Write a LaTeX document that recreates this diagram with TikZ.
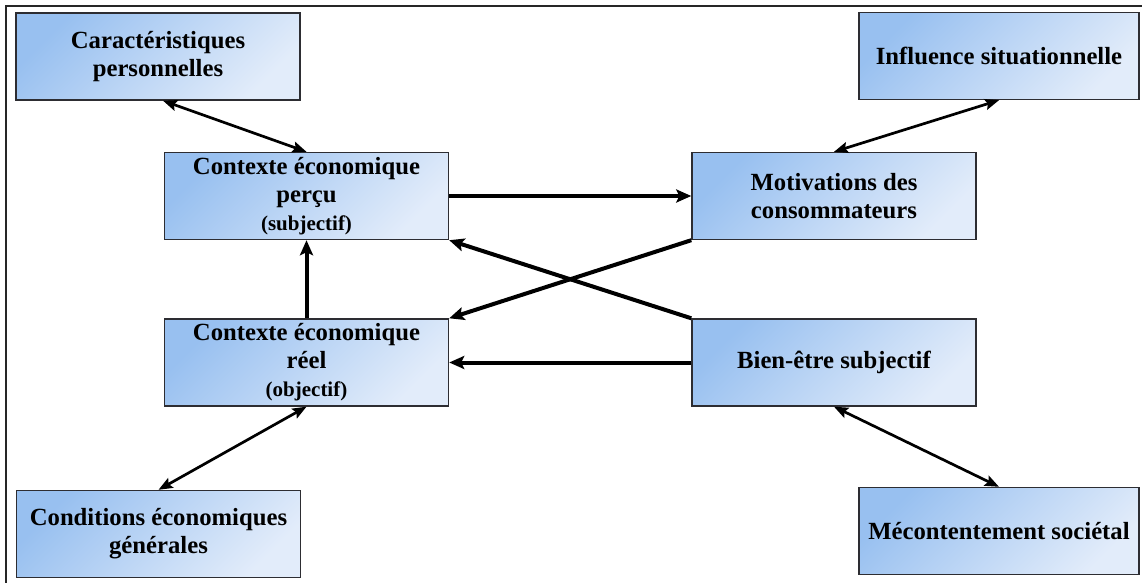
\documentclass[tikz,border=0pt]{standalone}
\usepackage{fontspec}
\setmainfont{Liberation Serif}
\usepackage{xcolor}
\usetikzlibrary{arrows.meta, positioning, calc}
\definecolor{boxtop}{RGB}{152, 192, 240}
\definecolor{boxbot}{RGB}{226, 236, 250}
\definecolor{boxline}{RGB}{45, 45, 50}
\newcommand{\petit}{\fontsize{10.5}{12.8}\selectfont}
\tikzset{
    box/.style={
        rectangle, minimum width=142pt, minimum height=43.5pt, inner sep=0pt,
        draw=boxline, line width=0.7pt, top color=boxtop, bottom color=boxbot,
        shading angle=45, text=black,
        font=\fontsize{12.35}{14}\selectfont\bfseries, align=center
    },
    sidebox/.style={box, minimum width=140pt},
    arrow/.style={-{Stealth[length=7.5pt, width=6.5pt, inset=1.5pt]}, line width=2pt, black},
    twoway/.style={{Stealth[length=7pt, width=5.5pt, inset=1.2pt]}-{Stealth[length=7pt, width=5.5pt, inset=1.2pt]}, line width=1.35pt, black},
}

\begin{document}
\begin{tikzpicture}[x=0.5pt, y=-0.5pt]
    \useasboundingbox (0,0) rectangle (1142,583);
    \draw[line width=1pt, black!85] (6,583) -- (6,6) -- (1142,6);

    \node[box] (car) at (158,56.5) {Caractéristiques\\personnelles};
    \node[sidebox] (inf) at (999,56) {Influence situationnelle};
    \node[box] (per) at (306.5,196) {Contexte économique\\perçu\\{\petit (subjectif)}};
    \node[box] (mot) at (834,196) {Motivations des\\consommateurs};
    \node[box] (ree) at (306.5,362.5) {Contexte économique\\réel\\{\petit (objectif)}};
    \node[box] (bie) at (834,362.5) {Bien-être subjectif};
    \node[box] (con) at (158.5,534) {Conditions économiques\\générales};
    \node[sidebox] (mec) at (999,531) {Mécontentement sociétal};

    \draw[twoway] ([xshift=2.5pt]car.south) -- (per.north);
    \draw[twoway] (inf.south) -- (mot.north);
    \draw[arrow] (per.east) -- (mot.west);
    \draw[arrow] (bie.north west) -- (per.south east);
    \draw[arrow] (mot.south west) -- (ree.north east);
    \draw[arrow] (bie.west) -- (ree.east);
    \draw[arrow] (ree.north) -- (per.south);
    \draw[twoway] (con.north) -- (ree.south);
    \draw[twoway] (bie.south) -- (mec.north);
\end{tikzpicture}
\end{document}
